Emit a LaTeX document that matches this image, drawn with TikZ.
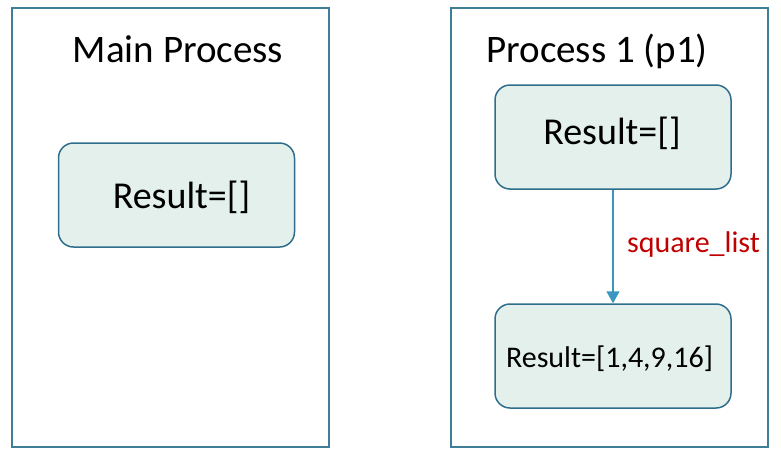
\documentclass[tikz,border=0pt]{standalone}
\usepackage{fontspec}
\setmainfont{Carlito}
\usetikzlibrary{arrows.meta}
\definecolor{framecol}{RGB}{64,126,152}
\definecolor{boxfill}{RGB}{227,240,236}
\definecolor{boxline}{RGB}{46,110,140}
\definecolor{arrowcol}{RGB}{58,150,190}
\definecolor{labelred}{RGB}{192,0,0}
\tikzset{
  frame/.style={draw=framecol, line width=1.6pt, minimum width=317pt, minimum height=439pt, inner sep=0pt},
  statebox/.style={draw=boxline, fill=boxfill, line width=1.5pt, rounded corners=15pt, minimum width=236pt, minimum height=104pt, inner sep=0pt},
  title/.style={anchor=base, font=\fontsize{39}{46}\selectfont},
  bigtxt/.style={anchor=base, font=\fontsize{38}{45}\selectfont},
  smalltxt/.style={anchor=base, font=\fontsize{30}{36}\selectfont},
  flow/.style={draw=arrowcol, line width=1.6pt, -{Triangle[width=13pt,length=12pt]}},
}
\begin{document}
\begin{tikzpicture}[x=1pt, y=-1pt]
  \useasboundingbox (0,0) rectangle (781,455);
  % process frames
  \node[frame] (mainframe) at (170.5,227.5) {};
  \node[frame] (p1frame) at (609.5,227.5) {};
  \node[title] (maintitle) at (178,62) {Main Process};
  \node[title] (p1title) at (597,62) {Process 1 (p1)};
  % main process state
  \node[statebox] (mainbox) at (176.5,195) {};
  \node[bigtxt] (maintext) at (181.5,208) {Result=[]};
  % child process states
  \node[statebox] (p1before) at (613,137) {};
  \node[bigtxt] (p1beforetext) at (612,144) {Result=[]};
  \node[statebox] (p1after) at (613,356) {};
  \node[smalltxt] (p1aftertext) at (609.5,367) {Result=[1,4,9,16]};
  % square_list transforms the list
  \draw[flow] (p1before.south) -- (p1after.north);
  \node[smalltxt, text=labelred] (sqlabel) at (693.5,252) {square\_list};
\end{tikzpicture}
\end{document}
